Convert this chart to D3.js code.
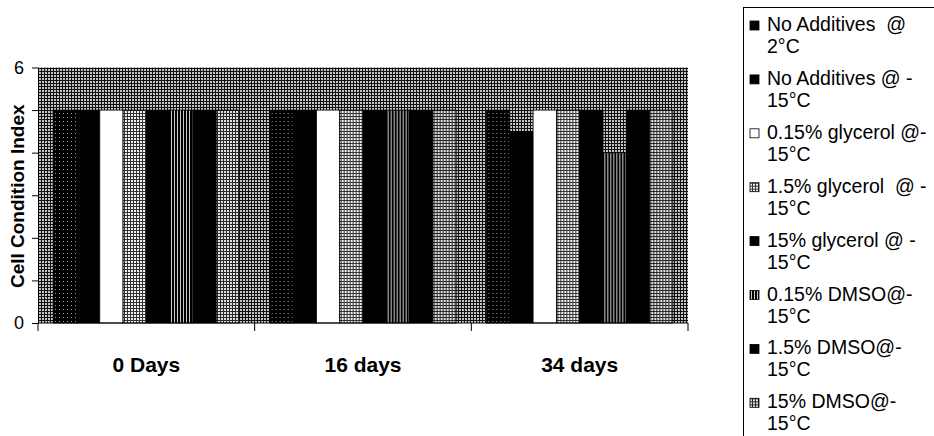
<!DOCTYPE html>
<html>
<head>
<meta charset="utf-8">
<script src="https://cdn.jsdelivr.net/npm/d3@7"></script>
<style>
  html, body { margin: 0; padding: 0; background: #fff; }
  svg { display: block; }
  text { font-family: "Liberation Sans", Arial, sans-serif; }
</style>
</head>
<body>
<svg id="chart" width="934" height="436"></svg>
<script>
// Storage time points
const categories = ["0 Days", "16 days", "34 days"];

// Cell condition index per treatment, one value per time point
const noAdditives2C   = [5, 5, 5];
const noAdditives15C  = [5, 5, 4.5];
const glycerol015     = [5, 5, 5];
const glycerol15      = [5, 5, 5];
const glycerol150     = [5, 5, 5];
const dmso015         = [5, 5, 4];
const dmso15          = [5, 5, 5];
const dmso150         = [5, 5, 5];

// Legend text, two lines per treatment
const legendLine1 = [
  "No Additives  @", "No Additives @ -", "0.15% glycerol @-", "1.5% glycerol  @ -",
  "15% glycerol @ -", "0.15% DMSO@-", "1.5% DMSO@-", "15% DMSO@-"
];
const legendLine2 = ["2°C", "15°C", "15°C", "15°C", "15°C", "15°C", "15°C", "15°C"];

// Y axis ticks; the inner labels are left blank because the axis title runs over them
const yTicks = [0, 1, 2, 3, 4, 5, 6];
const yTickLabels = ["0", "", "", "", "", "", "6"];

const yTitle = "Cell Condition Index";

const seriesValues = [noAdditives2C, noAdditives15C, glycerol015, glycerol15,
                      glycerol150, dmso015, dmso15, dmso150];
const seriesKeys = d3.range(seriesValues.length);

const svg = d3.select("#chart");
const defs = svg.append("defs");

// Halftone-like fills for the monochrome series
function addPattern(id, size, base, cells) {
  const p = defs.append("pattern")
    .attr("id", id)
    .attr("patternUnits", "userSpaceOnUse")
    .attr("width", size).attr("height", size);
  p.append("rect").attr("width", size).attr("height", size).attr("fill", base);
  cells.forEach(([x, y, w, h, c]) =>
    p.append("rect").attr("x", x).attr("y", y).attr("width", w).attr("height", h).attr("fill", c));
}
addPattern("fill-plot", 3, "#111", [[0, 0, 2, 2, "#c4c4c4"]]);
addPattern("fill-dots", 4, "#000", [[1, 1, 1, 1, "#9a9a9a"]]);
addPattern("fill-grid-light", 3, "#333", [[0, 0, 2, 2, "#f2f2f2"]]);
addPattern("fill-grid-dark", 3, "#000", [[1, 0, 1, 3, "#c8c8c8"]]);
addPattern("fill-grid-mid", 3, "#2a2a2a", [[0, 0, 2, 2, "#e0e0e0"]]);

const barFills = [
  "url(#fill-dots)", "#000", "#fff", "url(#fill-grid-light)",
  "#000", "url(#fill-grid-dark)", "#000", "url(#fill-grid-mid)"
];
const swatchFills = [
  "#000", "#000", "#fff", "url(#fill-grid-light)",
  "#000", "url(#fill-grid-dark)", "#000", "url(#fill-grid-mid)"
];

// Plot area
const left = 38, right = 688, bottom = 323;
const y = d3.scaleLinear().domain([0, 6]).range([bottom, 67.5]);
const x0 = d3.scaleBand().domain(categories).range([left, right]).padding(0);
const bw = x0.bandwidth();
const groupGap = bw * 0.07;
const x1 = d3.scaleBand().domain(seriesKeys).range([groupGap, bw - groupGap]).padding(0);

svg.append("rect")
  .attr("x", left).attr("y", y(6))
  .attr("width", right - left).attr("height", y(0) - y(6))
  .attr("fill", "url(#fill-plot)");

// Bars
const groups = svg.append("g").selectAll("g")
  .data(categories)
  .join("g")
  .attr("transform", d => `translate(${x0(d)},0)`);

groups.selectAll("rect")
  .data((d, gi) => seriesKeys.map(k => ({ k, v: seriesValues[k][gi] })))
  .join("rect")
  .attr("x", d => x1(d.k))
  .attr("y", d => y(d.v))
  .attr("width", x1.bandwidth())
  .attr("height", d => y(0) - y(d.v))
  .attr("fill", d => barFills[d.k])
  .attr("stroke", "#000")
  .attr("stroke-width", 0.8);

// Y axis
const yAxis = d3.axisLeft(y)
  .tickValues(yTicks)
  .tickSize(6)
  .tickSizeOuter(0)
  .tickPadding(8)
  .tickFormat((d, i) => yTickLabels[i]);
const gy = svg.append("g").attr("transform", `translate(${left},0)`).call(yAxis);
gy.selectAll("text").attr("font-size", 18).attr("fill", "#000")
  .style("font-family", "'Liberation Sans', Arial, sans-serif");
gy.selectAll("line, path").attr("stroke", "#000");

// X axis: baseline, category boundary ticks and labels
svg.append("line")
  .attr("x1", left).attr("x2", right)
  .attr("y1", y(0)).attr("y2", y(0))
  .attr("stroke", "#000");
const boundaries = categories.map(c => x0(c)).concat([x0(categories[categories.length - 1]) + bw]);
svg.append("g").selectAll("line")
  .data(boundaries)
  .join("line")
  .attr("x1", d => d).attr("x2", d => d)
  .attr("y1", y(0)).attr("y2", y(0) + 8)
  .attr("stroke", "#000");
svg.append("g").selectAll("text")
  .data(categories)
  .join("text")
  .attr("x", d => x0(d) + bw / 2)
  .attr("y", 372)
  .attr("text-anchor", "middle")
  .attr("font-size", 21)
  .attr("font-weight", "bold")
  .text(d => d);

// Y axis title
svg.append("text")
  .attr("transform", `translate(24,${(y(0) + y(6)) / 2 + 1}) rotate(-90)`)
  .attr("text-anchor", "middle")
  .attr("font-size", 19)
  .attr("font-weight", "bold")
  .text(yTitle);

// Legend
const legend = svg.append("g");
legend.append("rect")
  .attr("x", 743.5).attr("y", 7.5)
  .attr("width", 200).attr("height", 440)
  .attr("fill", "#fff").attr("stroke", "#000");
const entryStep = 53.9, firstBaseline = 31, lineGap = 22;
const entries = legend.selectAll("g.entry")
  .data(seriesKeys)
  .join("g")
  .attr("class", "entry")
  .attr("transform", k => `translate(0,${firstBaseline + k * entryStep})`);
entries.append("rect")
  .attr("x", 750).attr("y", -10)
  .attr("width", 9).attr("height", 9)
  .attr("fill", k => swatchFills[k])
  .attr("stroke", "#000").attr("stroke-width", 0.8);
entries.append("text")
  .attr("x", 767).attr("y", 0)
  .attr("font-size", 19.5)
  .style("white-space", "pre")
  .text(k => legendLine1[k]);
entries.append("text")
  .attr("x", 767).attr("y", lineGap)
  .attr("font-size", 19.5)
  .text(k => legendLine2[k]);
</script>
</body>
</html>
